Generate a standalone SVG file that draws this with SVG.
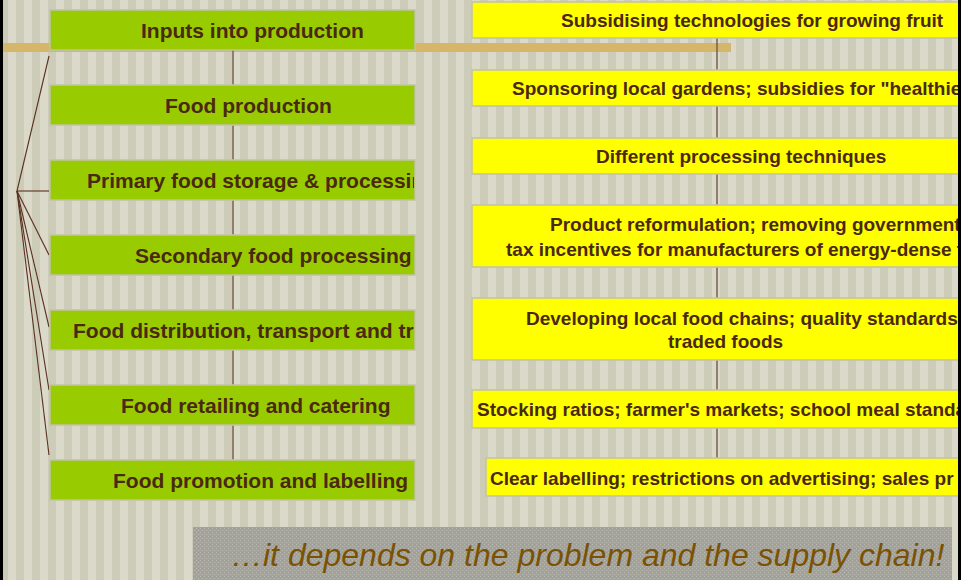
<svg xmlns="http://www.w3.org/2000/svg" width="961" height="580" viewBox="0 0 961 580">
  <defs>
    <pattern id="stripes" x="0" y="0" width="16" height="16" patternUnits="userSpaceOnUse">
      <rect x="0" y="0" width="8" height="16" fill="#cdccb8"/>
      <rect x="8" y="0" width="8" height="16" fill="#dad9ca"/>
    </pattern>
    <pattern id="grain" x="0" y="0" width="4" height="4" patternUnits="userSpaceOnUse">
      <rect width="4" height="4" fill="#a3a39b"/>
      <rect x="0" y="0" width="1" height="1" fill="#b9b9b1"/>
      <rect x="2" y="2" width="1" height="1" fill="#b9b9b1"/>
      <rect x="2" y="0" width="1" height="1" fill="#999991"/>
    </pattern>
    <clipPath id="clipStageText"><rect x="50" y="0" width="364" height="580"/></clipPath>
    <clipPath id="clipRight"><rect x="0" y="0" width="958" height="580"/></clipPath>
  </defs>
  <style>
    .stage { fill: #99cc00; stroke: #c2c2a6; stroke-width: 1.5; }
    .policy { fill: #ffff00; stroke: #c2c2a6; stroke-width: 1.5; }
    .lbl { font-family: "Liberation Sans", Arial, sans-serif; font-weight: bold; fill: #4a2812; }
    .stage-lbl { font-size: 21px; clip-path: url(#clipStageText); }
    .policy-lbl { font-size: 19px; }
    .spine { stroke: #7a5e50; stroke-width: 1.5; fill: none; }
    .link { stroke: #5a3020; stroke-width: 1.1; fill: none; }
  </style>

  <!-- striped backdrop -->
  <rect x="0" y="0" width="961" height="580" fill="url(#stripes)"/>

  <!-- gold rule behind the top row -->
  <rect x="3" y="43" width="728" height="9" fill="#d6b66a"/>

  <!-- connectors -->
  <g id="connectors">
    <line class="spine" x1="233" y1="50" x2="233" y2="460"/>
    <line class="spine" x1="717" y1="38" x2="717" y2="458"/>
    <line class="link" x1="17" y1="191" x2="49" y2="56"/>
    <line class="link" x1="17" y1="191" x2="49" y2="191" stroke-width="2"/>
    <line class="link" x1="17" y1="191" x2="49" y2="255"/>
    <line class="link" x1="17" y1="191" x2="49" y2="327"/>
    <line class="link" x1="17" y1="191" x2="49" y2="390"/>
    <line class="link" x1="17" y1="191" x2="49" y2="455"/>
  </g>

  <!-- supply-chain stages -->
  <g id="stage-inputs">
    <rect class="stage" x="50" y="10" width="365" height="40"/>
    <text class="lbl stage-lbl" x="141" y="37.5">Inputs into production</text>
  </g>
  <g id="stage-production">
    <rect class="stage" x="50" y="85" width="365" height="40"/>
    <text class="lbl stage-lbl" x="165" y="112.5">Food production</text>
  </g>
  <g id="stage-storage">
    <rect class="stage" x="50" y="160" width="365" height="40"/>
    <text class="lbl stage-lbl" x="87" y="187.5">Primary food storage &amp; processin</text>
  </g>
  <g id="stage-secondary">
    <rect class="stage" x="50" y="235" width="365" height="40"/>
    <text class="lbl stage-lbl" x="135" y="262.5">Secondary food processing</text>
  </g>
  <g id="stage-distribution">
    <rect class="stage" x="50" y="310" width="365" height="40"/>
    <text class="lbl stage-lbl" x="73" y="337.5">Food distribution, transport and tra</text>
  </g>
  <g id="stage-retail">
    <rect class="stage" x="50" y="385" width="365" height="40"/>
    <text class="lbl stage-lbl" x="121" y="412.5">Food retailing and catering</text>
  </g>
  <g id="stage-promotion">
    <rect class="stage" x="50" y="460" width="365" height="40"/>
    <text class="lbl stage-lbl" x="113" y="487.5">Food promotion and labelling</text>
  </g>

  <!-- policy levers -->
  <g clip-path="url(#clipRight)">
    <g id="policy-fruit">
      <rect class="policy" x="472" y="2" width="500" height="36"/>
      <text class="lbl policy-lbl" x="561" y="26.8">Subsidising technologies for growing fruit</text>
    </g>
    <g id="policy-gardens">
      <rect class="policy" x="472" y="70" width="500" height="36"/>
      <text class="lbl policy-lbl" x="512" y="94.8">Sponsoring local gardens; subsidies for "healthie</text>
    </g>
    <g id="policy-processing">
      <rect class="policy" x="472" y="138" width="500" height="36"/>
      <text class="lbl policy-lbl" x="596" y="162.8">Different processing techniques</text>
    </g>
    <g id="policy-reformulation">
      <rect class="policy" x="472" y="205" width="500" height="62"/>
      <text class="lbl policy-lbl" x="550" y="230.8">Product reformulation; removing government</text>
      <text class="lbl policy-lbl" x="506" y="255.8">tax incentives for manufacturers of energy-dense f</text>
    </g>
    <g id="policy-local-chains">
      <rect class="policy" x="472" y="298" width="500" height="62"/>
      <text class="lbl policy-lbl" x="526" y="324.8">Developing local food chains; quality standards</text>
      <text class="lbl policy-lbl" x="668" y="347.8">traded foods</text>
    </g>
    <g id="policy-stocking">
      <rect class="policy" x="472" y="390" width="500" height="38"/>
      <text class="lbl policy-lbl" x="477" y="415.8">Stocking ratios; farmer's markets; school meal standa</text>
    </g>
    <g id="policy-labelling">
      <rect class="policy" x="486" y="458" width="500" height="38"/>
      <text class="lbl policy-lbl" x="490" y="484.8">Clear labelling; restrictions on advertising; sales pr</text>
    </g>
  </g>

  <!-- closing banner -->
  <g id="banner">
    <rect x="193" y="527" width="759" height="53" fill="url(#grain)"/>
    <text x="231" y="566" font-family="'Liberation Sans', Arial, sans-serif" font-style="italic" font-size="32" fill="#7a5206">…it depends on the problem and the supply chain!</text>
  </g>

  <!-- frame edges -->
  <rect x="0" y="0" width="3" height="580" fill="#000"/>
  <rect x="958" y="0" width="3" height="580" fill="#000"/>
</svg>
